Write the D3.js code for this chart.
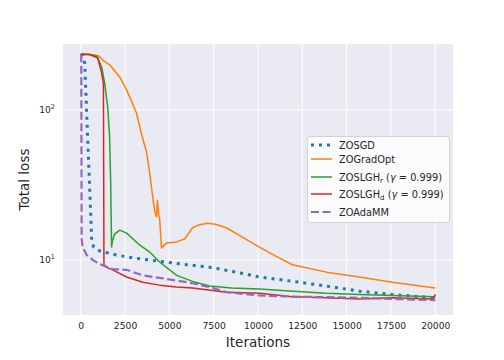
<!DOCTYPE html>
<html>
<head>
<meta charset="utf-8">
<script src="https://cdn.jsdelivr.net/npm/d3@7"></script>
<style>
  html, body { margin: 0; padding: 0; background: #ffffff; }
  #chart { width: 504px; height: 360px; }
</style>
</head>
<body>
<div id="chart"></div>
<script>
// series: iteration / loss pairs
const sgdIter = [0, 100, 225, 300, 400, 500, 620, 730, 1070, 2000, 3000, 4450, 6000, 7440, 9000, 10080, 12000, 13860, 15720, 17580, 19900, 20000];
const sgdLoss = [235, 232, 205, 122, 61, 31, 13.6, 12.2, 11.5, 10.8, 10.3, 9.8, 9.3, 8.9, 8.2, 7.7, 7.2, 6.7, 6.2, 5.9, 5.6, 6.0];

const gradIter = [0, 500, 1000, 1300, 1630, 2200, 2590, 3150, 3440, 3720, 3890, 4000, 4150, 4230, 4280, 4330, 4400, 4450, 4560, 4850, 5400, 5860, 6310, 6700, 7150, 7600, 8220, 9000, 10080, 11000, 11940, 13860, 15720, 17580, 20000];
const gradLoss = [235, 234, 230, 212, 200, 166, 136, 95, 68, 52, 38, 30, 22, 20, 19.4, 25, 20, 19, 12, 13.0, 13.2, 13.8, 16.4, 17.2, 17.6, 17.3, 16.4, 14.5, 12.2, 10.6, 9.3, 8.3, 7.7, 7.1, 6.5];

const slghRIter = [0, 500, 900, 1180, 1350, 1520, 1630, 1690, 1740, 1800, 1900, 2200, 2590, 3320, 3890, 4450, 5410, 6310, 7270, 8500, 10080, 12000, 13860, 15720, 17580, 20000];
const slghRLoss = [235, 234, 229, 194, 151, 105, 66, 32.6, 12.2, 13.5, 14.8, 15.8, 15.1, 12.6, 11.3, 9.7, 7.9, 7.2, 6.7, 6.5, 6.4, 6.2, 6.0, 5.9, 5.8, 5.7];

const slghDIter = [0, 500, 960, 1180, 1280, 1310, 1400, 1800, 2590, 3500, 4450, 5400, 6310, 8220, 10080, 11940, 13860, 15720, 17580, 19900, 20000];
const slghDLoss = [235, 234, 222, 176, 150, 9.3, 9.0, 8.6, 7.7, 7.1, 6.8, 6.6, 6.5, 6.1, 6.0, 5.7, 5.6, 5.5, 5.6, 5.5, 5.9];

const adaIter = [0, 30, 50, 100, 340, 680, 1070, 1800, 2590, 3500, 4450, 5400, 6310, 7270, 8220, 10080, 11940, 15720, 17580, 20000];
const adaLoss = [235, 230, 14.0, 12.2, 10.8, 10.0, 9.4, 8.7, 8.6, 7.9, 7.6, 7.3, 7.0, 6.6, 6.1, 5.8, 5.7, 5.6, 5.5, 5.4];

const xTicks = [0, 2500, 5000, 7500, 10000, 12500, 15000, 17500, 20000];
const yTicks = [10, 100];

const seriesNames = ["ZOSGD", "ZOGradOpt", "ZOSLGH_r", "ZOSLGH_d", "ZOAdaMM"];

const series = [
  { name: seriesNames[0], iter: sgdIter, loss: sgdLoss, color: "#1f77b4", width: 3, dash: "3,5" },
  { name: seriesNames[1], iter: gradIter, loss: gradLoss, color: "#ff7f0e", width: 1.5, dash: null },
  { name: seriesNames[2], iter: slghRIter, loss: slghRLoss, color: "#2ca02c", width: 1.5, dash: null },
  { name: seriesNames[3], iter: slghDIter, loss: slghDLoss, color: "#d62728", width: 1.5, dash: null },
  { name: seriesNames[4], iter: adaIter, loss: adaLoss, color: "#9467bd", width: 2.2, dash: "8,3.5" },
];

const width = 504, height = 360;
const margin = { top: 44, right: 51, bottom: 45, left: 63 };
const font = "'DejaVu Sans', sans-serif";
const textColor = "#262626";

const svg = d3.select("#chart")
  .append("svg")
  .attr("width", width)
  .attr("height", height)
  .style("font-family", font);

const x = d3.scaleLinear()
  .domain([-1000, 21000])
  .range([margin.left, width - margin.right]);

const y = d3.scaleLog()
  .domain([4.3, 275])
  .range([height - margin.bottom, margin.top]);

// fondo
svg.append("rect")
  .attr("x", margin.left)
  .attr("y", margin.top)
  .attr("width", width - margin.left - margin.right)
  .attr("height", height - margin.top - margin.bottom)
  .attr("fill", "#eaeaf2");

// rejilla
svg.append("g")
  .selectAll("line")
  .data(xTicks)
  .join("line")
  .attr("x1", (d) => x(d)).attr("x2", (d) => x(d))
  .attr("y1", margin.top).attr("y2", height - margin.bottom)
  .attr("stroke", "#ffffff").attr("stroke-width", 1);

svg.append("g")
  .selectAll("line")
  .data(yTicks)
  .join("line")
  .attr("x1", margin.left).attr("x2", width - margin.right)
  .attr("y1", (d) => y(d)).attr("y2", (d) => y(d))
  .attr("stroke", "#ffffff").attr("stroke-width", 1);

// ejes
const xAxis = svg.append("g")
  .attr("transform", `translate(0,${height - margin.bottom})`)
  .call(d3.axisBottom(x).tickValues(xTicks).tickSize(0).tickPadding(7).tickFormat(d3.format("d")));
xAxis.select(".domain").remove();
xAxis.selectAll("text")
  .attr("fill", textColor)
  .attr("font-size", 9.2)
  .attr("font-family", font);

const yAxis = svg.append("g")
  .attr("transform", `translate(${margin.left},0)`)
  .call(d3.axisLeft(y).tickValues(yTicks).tickSize(0).tickPadding(8).tickFormat(() => ""));
yAxis.select(".domain").remove();
yAxis.selectAll(".tick text")
  .attr("fill", textColor)
  .attr("font-size", 9.2)
  .attr("font-family", font)
  .each(function (d) {
    const t = d3.select(this);
    t.append("tspan").text("10");
    t.append("tspan")
      .attr("font-size", 6.5)
      .attr("dy", -4)
      .text(String(Math.round(Math.log10(d))));
  });

// curvas
const line = d3.line()
  .x((d) => x(d[0]))
  .y((d) => y(d[1]));

svg.append("g")
  .selectAll("path")
  .data(series)
  .join("path")
  .attr("d", (s) => line(s.iter.map((v, i) => [v, s.loss[i]])))
  .attr("fill", "none")
  .attr("stroke", (s) => s.color)
  .attr("stroke-width", (s) => s.width)
  .attr("stroke-dasharray", (s) => s.dash)
  .attr("stroke-linejoin", "round");

// títulos de ejes
svg.append("text")
  .attr("x", (margin.left + width - margin.right) / 2)
  .attr("y", 347)
  .attr("text-anchor", "middle")
  .attr("fill", textColor)
  .attr("font-size", 13.5)
  .text("Iterations");

svg.append("text")
  .attr("transform", `translate(29,${(margin.top + height - margin.bottom) / 2}) rotate(-90)`)
  .attr("text-anchor", "middle")
  .attr("fill", textColor)
  .attr("font-size", 13.5)
  .text("Total loss");

// leyenda
const legend = svg.append("g").attr("transform", "translate(307,136)");
legend.append("rect")
  .attr("x", 0.5).attr("y", 0.5)
  .attr("width", 142).attr("height", 86)
  .attr("rx", 2.5)
  .attr("fill", "rgba(255,255,255,0.8)")
  .attr("stroke", "#cccccc")
  .attr("stroke-width", 0.8);

const rowY = [9, 23, 41, 58, 76];

series.forEach((s, i) => {
  const row = legend.append("g").attr("transform", `translate(0,${rowY[i]})`);
  row.append("line")
    .attr("x1", 4).attr("x2", 25)
    .attr("stroke", s.color)
    .attr("stroke-width", s.width)
    .attr("stroke-dasharray", s.dash);
  const t = row.append("text")
    .attr("x", 32)
    .attr("y", 3.5)
    .attr("fill", textColor)
    .attr("font-size", 9.8);
  if (s.name.startsWith("ZOSLGH")) {
    t.append("tspan").text("ZOSLGH");
    t.append("tspan").attr("font-size", 7).attr("dy", 2).text(s.name.slice(-1));
    t.append("tspan").attr("dy", -2).text(" (");
    t.append("tspan").attr("font-style", "italic").text("γ");
    t.append("tspan").text(" = 0.999)");
  } else {
    t.text(s.name);
  }
});
</script>
</body>
</html>
